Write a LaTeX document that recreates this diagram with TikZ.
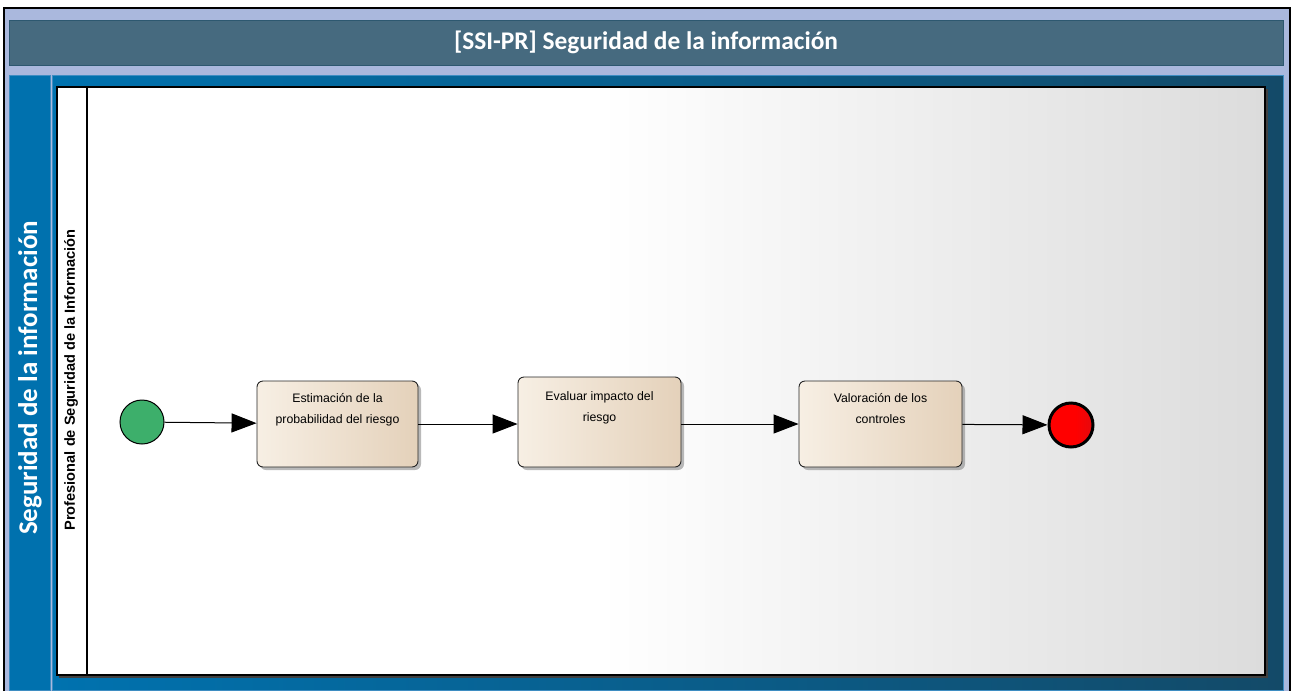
\documentclass[tikz,border=0pt]{standalone}
\usepackage{fontspec}
\setmainfont{Liberation Sans}
\newfontfamily\headfont{Carlito}
\usetikzlibrary{arrows.meta,shadows}

\definecolor{frameblue}{HTML}{AAB8DD}
\definecolor{titlefill}{HTML}{466A7F}
\definecolor{titleedge}{HTML}{2D5870}
\definecolor{poolband}{HTML}{0071AE}
\definecolor{pooledge}{HTML}{3E8DC2}
\definecolor{poolleft}{HTML}{0072AF}
\definecolor{poolright}{HTML}{134A68}
\definecolor{lanegray}{HTML}{DCDCDC}
\definecolor{taskL}{HTML}{F7EFE4}
\definecolor{taskR}{HTML}{E4D1BA}
\definecolor{startgreen}{HTML}{3DAF6B}
\definecolor{enddark}{HTML}{C4141C}

% bright red that only darkens near the right edge
\pgfdeclarehorizontalshading{endshade}{100bp}{color(0bp)=(red); color(55bp)=(red); color(100bp)=(enddark)}

\begin{document}
\begin{tikzpicture}[x=1pt,y=-1pt,
  task/.style={draw=black!85, line width=0.9pt, rounded corners=6pt,
    left color=taskL, right color=taskR, inner sep=0pt,
    drop shadow={shadow xshift=3pt, shadow yshift=-3pt, fill=black!50, opacity=0.55}},
  tasktext/.style={anchor=north, align=center, inner sep=0pt,
    font=\fontsize{12.3}{21}\selectfont},
  flow/.style={line width=1pt, -{Triangle[length=25pt,width=19pt]}},
  event/.style={circle, minimum size=44pt, inner sep=0pt},
]
\useasboundingbox (0,0) rectangle (1298,691);

% outer frame
\fill[frameblue] (4,8) rectangle (1290,691);
\draw[black, line width=1.2pt] (4,691) -- (4,8) -- (1290,8) -- (1290,691);

% title bar
\node[draw=titleedge, fill=titlefill, line width=1pt, minimum width=1274pt,
  minimum height=45pt, inner sep=0pt, text=white,
  font=\headfont\bfseries\fontsize{25.4}{30}\selectfont]
  (title) at (646,42.5) {[SSI-PR] Seguridad de la información};

% pool
\fill[poolband, draw=pooledge, line width=0.8pt] (9,75) rectangle (50,690);
\shade[left color=poolleft, right color=poolright] (52,75) rectangle (1283,690);
\draw[pooledge, line width=0.6pt] (52,75) rectangle (1283,690);
\node[rotate=90, text=white, inner sep=0pt,
  font=\headfont\bfseries\fontsize{27}{32}\selectfont]
  (poollabel) at (30,378) {Seguridad de la información};

% lane
\fill[black!75] (59,89) rectangle (1268,678);
\fill[white] (57,87) rectangle (1265,675);
\shade[left color=white, right color=lanegray] (600,87) rectangle (1265,675);
\draw[black, line width=1.2pt] (57,87) rectangle (1265,675);
\draw[black, line width=1.2pt] (87,87) -- (87,675);
\node[rotate=90, inner sep=0pt, font=\bfseries\fontsize{14.6}{17}\selectfont]
  (lanelabel) at (71,380) {Profesional de Seguridad de la Información};

% events
\node[event, draw=black, line width=1pt, fill=startgreen] (start) at (142,422) {};
\node[event, draw=black, line width=3pt, shading=endshade] (end) at (1071,425) {};

% tasks
\node[task, minimum width=161pt, minimum height=86pt] (t1) at (337.5,424) {};
\node[task, minimum width=163pt, minimum height=90pt] (t2) at (599.5,422) {};
\node[task, minimum width=163pt, minimum height=86pt] (t3) at (880.5,424) {};

\node[tasktext] (t1txt) at ([yshift=-13pt]t1.north) {Estimación de la\\probabilidad del riesgo};
\node[tasktext] (t2txt) at ([yshift=-15pt]t2.north) {Evaluar impacto del\\riesgo};
\node[tasktext] (t3txt) at ([yshift=-13pt]t3.north) {Valoración de los\\controles};

% sequence flows
\draw[flow] (start) -- (t1);
\draw[flow] (t1.east) -- (t2.west |- t1.east);
\draw[flow] (t2.east |- t3.west) -- (t3.west);
\draw[flow] (t3) -- (end);
\end{tikzpicture}
\end{document}
